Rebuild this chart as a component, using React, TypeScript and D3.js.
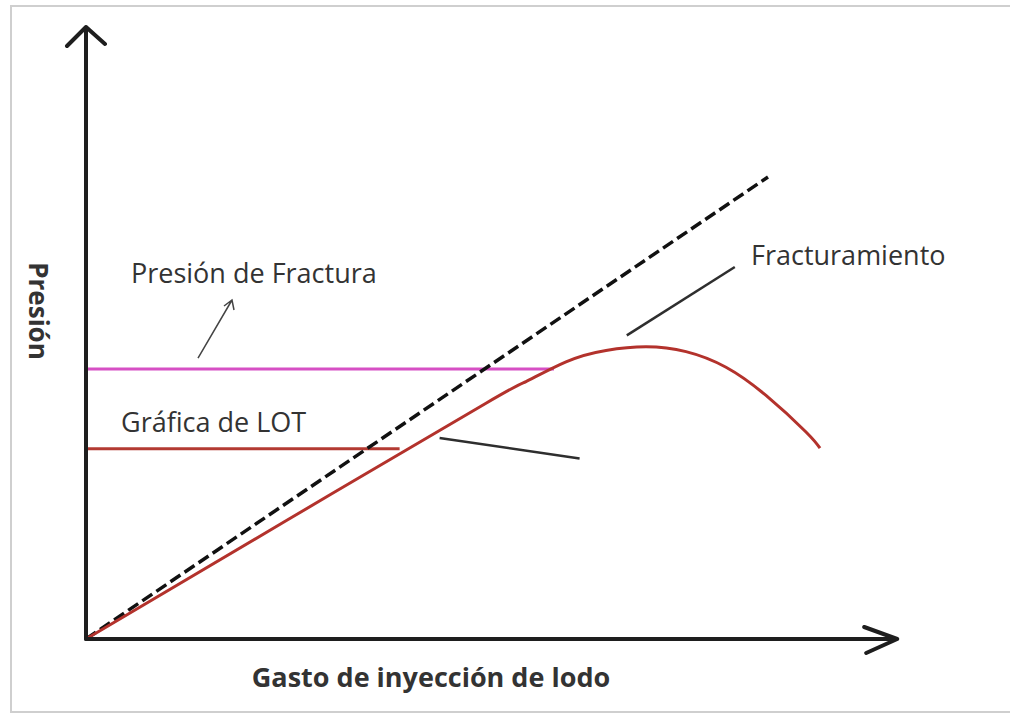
import React, { useEffect, useRef } from 'react';
import * as d3 from 'd3';

// curve values in arbitrary units (0..100 on both axes)
const lotX = [0, 25, 50, 55, 60, 65, 70, 75, 80, 85, 90, 91.75];
const lotY = [0, 19.7, 39.3, 42.9, 46.2, 48.1, 48.7, 47.9, 45.3, 40.6, 34.5, 31.8];
const idealX = [0, 85.25];
const idealY = [0, 77];
const fracPressure = 45;
const fracEndX = 58.5;
const lotLevel = 31.7;
const lotEndX = 39.2;
const axisEnd = [101.4, 102];

const App = () => {
  const ref = useRef<SVGSVGElement>(null);

  useEffect(() => {
    const svg = d3.select(ref.current);
    svg.selectAll('*').remove();

    const x = d3.scaleLinear().domain([0, 100]).range([86, 886]);
    const y = d3.scaleLinear().domain([0, 100]).range([639, 39]);
    const font = "'Open Sans', sans-serif";
    const textColor = '#333';

    // frame
    svg.append('rect')
      .attr('x', 11).attr('y', 6)
      .attr('width', 1010).attr('height', 706)
      .attr('fill', '#fff')
      .attr('stroke', '#cfcfcf').attr('stroke-width', 2);

    // pink fracture pressure line
    svg.append('line')
      .attr('x1', x(0)).attr('x2', x(fracEndX))
      .attr('y1', y(fracPressure)).attr('y2', y(fracPressure))
      .attr('stroke', '#d64fc4').attr('stroke-width', 3);

    // red LOT level line
    svg.append('line')
      .attr('x1', x(0)).attr('x2', x(lotEndX))
      .attr('y1', y(lotLevel)).attr('y2', y(lotLevel))
      .attr('stroke', '#b33a32').attr('stroke-width', 3);

    // dashed ideal line
    const ideal = idealX.map((d, i) => [d, idealY[i]] as [number, number]);
    svg.append('path')
      .datum(ideal)
      .attr('fill', 'none')
      .attr('stroke', '#111')
      .attr('stroke-width', 3.5)
      .attr('stroke-dasharray', '12 5')
      .attr('d', d3.line<[number, number]>().x(d => x(d[0])).y(d => y(d[1])));

    // LOT curve
    const lot = lotX.map((d, i) => [d, lotY[i]] as [number, number]);
    svg.append('path')
      .datum(lot)
      .attr('fill', 'none')
      .attr('stroke', '#b3322c')
      .attr('stroke-width', 3)
      .attr('d', d3.line<[number, number]>()
        .x(d => x(d[0])).y(d => y(d[1]))
        .curve(d3.curveNatural));

    // axes with open arrowheads
    const axisColor = '#1e1e1e';
    svg.append('path')
      .attr('d', `M${x(0)},${y(0)}V${y(axisEnd[1])}M${x(0) - 19},${y(axisEnd[1]) + 19}L${x(0)},${y(axisEnd[1])}L${x(0) + 19},${y(axisEnd[1]) + 17}`)
      .attr('fill', 'none').attr('stroke', axisColor)
      .attr('stroke-width', 4).attr('stroke-linejoin', 'round').attr('stroke-linecap', 'round');
    svg.append('path')
      .attr('d', `M${x(0)},${y(0)}H${x(axisEnd[0])}M${x(axisEnd[0]) - 33},${y(0) - 12}L${x(axisEnd[0])},${y(0)}L${x(axisEnd[0]) - 31},${y(0) + 14}`)
      .attr('fill', 'none').attr('stroke', axisColor)
      .attr('stroke-width', 4).attr('stroke-linejoin', 'round').attr('stroke-linecap', 'round');

    // pointer lines
    const pointers = [
      [[67.6, 50.6], [81.1, 62.0]],
      [[44.2, 33.5], [61.7, 30.1]],
    ];
    pointers.forEach(p => {
      svg.append('line')
        .attr('x1', x(p[0][0])).attr('y1', y(p[0][1]))
        .attr('x2', x(p[1][0])).attr('y2', y(p[1][1]))
        .attr('stroke', '#2e2e2e').attr('stroke-width', 2.5);
    });

    // small arrow to fracture pressure label
    const a0 = [14, 46.8];
    const a1 = [18.25, 56.5];
    svg.append('path')
      .attr('d', `M${x(a0[0])},${y(a0[1])}L${x(a1[0])},${y(a1[1])}M${x(a1[0]) - 8},${y(a1[1]) + 6}L${x(a1[0])},${y(a1[1])}L${x(a1[0]) + 2},${y(a1[1]) + 10}`)
      .attr('fill', 'none').attr('stroke', '#444').attr('stroke-width', 1.5);

    // labels
    const label = (tx: number, ty: number, text: string, opts: any = {}) => {
      svg.append('text')
        .attr('x', tx).attr('y', ty)
        .attr('font-family', font)
        .attr('font-size', opts.size || 27)
        .attr('font-weight', opts.weight || 'normal')
        .attr('fill', textColor)
        .attr('text-anchor', opts.anchor || 'start')
        .text(text);
    };
    label(131, 283, 'Presión de Fractura');
    label(121, 432, 'Gráfica de LOT');
    label(751, 265, 'Fracturamiento');
    label(431, 687, 'Gasto de inyección de lodo', { weight: 'bold', anchor: 'middle' });
    svg.append('text')
      .attr('transform', 'translate(29,311) rotate(90)')
      .attr('text-anchor', 'middle')
      .attr('font-family', font)
      .attr('font-size', 26)
      .attr('font-weight', 'bold')
      .attr('fill', textColor)
      .text('Presión');
  }, []);

  return (
    <svg ref={ref} width={1010} height={715}
      style={{ position: 'absolute', left: 0, top: 0, background: '#fff' }} />
  );
};

export default App;
